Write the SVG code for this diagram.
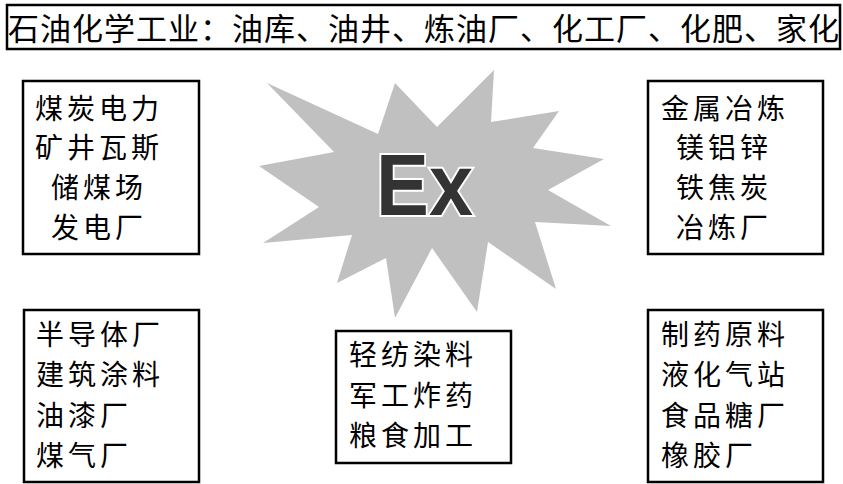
<svg xmlns="http://www.w3.org/2000/svg" width="843" height="484" viewBox="0 0 843 484">
<style>
.box{fill:#fff;stroke:#000;stroke-width:2.5}
.t{font-family:"Noto Sans CJK SC","Noto Sans CJK JP",sans-serif;font-size:28px;letter-spacing:4px;fill:#000}
.h{font-family:"Noto Sans CJK SC","Noto Sans CJK JP",sans-serif;font-size:31px;letter-spacing:1px;fill:#000}
.ex{font-family:"Liberation Sans",Arial,sans-serif;font-weight:bold;font-size:87px;fill:#333;stroke:#fff;stroke-width:4;paint-order:stroke;stroke-linejoin:miter}
</style>
<rect width="843" height="484" fill="#fff"/>
<g id="title">
<rect class="box" x="7" y="5" width="833" height="44"/>
<text class="h" x="8" y="40">石油化学工业：油库、油井、炼油厂、化工厂、化肥、家化</text>
</g>
<g id="star">
<polygon fill="#c0c0c0" points="494,70 491,122 559,111 533,148 604,159 548,190 611,226 535,222 556,289 488,242 477,312 432,248 395,318 386,258 337,283 352,235 263,243 319,207 259,166 334,152 267,83 378,134 395,83 437,127"/>
<text class="ex" x="376" y="215" textLength="97" lengthAdjust="spacingAndGlyphs">Ex</text>
</g>
<g id="coal">
<rect class="box" x="23" y="81" width="176" height="173"/>
<text class="t" x="35" y="119">煤炭电力</text>
<text class="t" x="35" y="158">矿井瓦斯</text>
<text class="t" x="51" y="198">储煤场</text>
<text class="t" x="51" y="238">发电厂</text>
</g>
<g id="metal">
<rect class="box" x="648" y="81" width="175" height="173"/>
<text class="t" x="661" y="119">金属冶炼</text>
<text class="t" x="676" y="158">镁铝锌</text>
<text class="t" x="676" y="198">铁焦炭</text>
<text class="t" x="676" y="238">冶炼厂</text>
</g>
<g id="semi">
<rect class="box" x="24" y="310" width="175" height="172"/>
<text class="t" x="36" y="345">半导体厂</text>
<text class="t" x="36" y="385">建筑涂料</text>
<text class="t" x="36" y="426">油漆厂</text>
<text class="t" x="36" y="466">煤气厂</text>
</g>
<g id="textile">
<rect class="box" x="336" y="331" width="175" height="132"/>
<text class="t" x="349" y="365">轻纺染料</text>
<text class="t" x="349" y="406">军工炸药</text>
<text class="t" x="349" y="446">粮食加工</text>
</g>
<g id="pharma">
<rect class="box" x="648" y="310" width="175" height="172"/>
<text class="t" x="661" y="345">制药原料</text>
<text class="t" x="661" y="385">液化气站</text>
<text class="t" x="661" y="426">食品糖厂</text>
<text class="t" x="661" y="466">橡胶厂</text>
</g>
<g id="connectors"></g>
</svg>
